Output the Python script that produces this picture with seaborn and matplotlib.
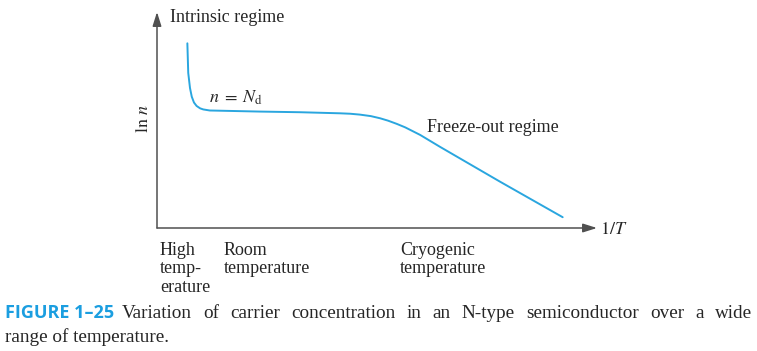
import matplotlib
matplotlib.use("Agg")
import matplotlib.pyplot as plt
import seaborn as sns
import pandas as pd

sns.set_theme(style="white")
plt.rcParams["font.family"] = ["Liberation Serif", "DejaVu Serif"]
plt.rcParams["mathtext.fontset"] = "stix"

# curve (arbitrary units: 1/T across, ln n up)
inv_T = [6.9, 7.1, 7.5, 7.9, 8.4, 9.0, 9.8, 10.5, 12.0, 16.6, 23.4, 32.5,
         41.6, 43.9, 46.1, 48.6, 50.7, 52.5, 54.5, 56.4, 59.8, 64.3, 78.0, 92.2]
ln_n = [85.5, 71.8, 64.8, 60.8, 58.1, 56.5, 55.4, 54.9, 54.4, 54.2, 53.9, 53.6,
        53.1, 52.9, 52.5, 51.8, 50.8, 49.7, 48.2, 46.6, 43.1, 37.6, 21.4, 5.0]

regime_labels = ["Intrinsic regime", r"$n\;=\;N_{\rm d}$", "Freeze-out regime"]
temp_labels = ["High\ntemp-\nerature", "Room\ntemperature", "Cryogenic\ntemperature"]
caption_line1 = "Variation of carrier concentration in an N-type semiconductor over a wide"
caption_line2 = "range of temperature."

df = pd.DataFrame({"x": inv_T, "y": ln_n})

W, H = 757, 351
fig = plt.figure(figsize=(W / 100, H / 100), dpi=100)
ax = fig.add_axes([157 / W, 1 - 228 / H, 440 / W, 216 / H])

curve_color = "#2aa6df"
axis_color = "#505050"
sns.lineplot(data=df, x="x", y="y", sort=False, color=curve_color, lw=1.4, ax=ax)

ax.set_xlim(0, 100)
ax.set_ylim(0, 100)
ax.set_xticks([])
ax.set_yticks([])
ax.set_xlabel("")
ax.set_ylabel("")
for s in ["top", "right", "left", "bottom"]:
    ax.spines[s].set_visible(False)

arrow = dict(arrowstyle="-|>,head_length=0.7,head_width=0.22", color=axis_color,
             lw=1.1, shrinkA=0, shrinkB=0)
ax.annotate("", xy=(1, 0), xytext=(0, 0), xycoords="axes fraction", arrowprops=arrow)
ax.annotate("", xy=(0, 1), xytext=(0, 0), xycoords="axes fraction", arrowprops=arrow)


def px(x, y):
    return x / W, 1 - y / H


fs = 13
fig.text(*px(170, 17), regime_labels[0], fontsize=fs, va="center", ha="left")
fig.text(*px(209, 98), regime_labels[1], fontsize=fs, va="center", ha="left")
fig.text(*px(427, 127), regime_labels[2], fontsize=fs, va="center", ha="left")
fig.text(*px(143, 119), r"$\ln\,n$", fontsize=fs, va="center", ha="center", rotation=90)
fig.text(*px(600, 229), r"$1/T$", fontsize=fs, va="center", ha="left")

for xpos, lab in zip([160, 224, 400], temp_labels):
    fig.text(*px(xpos, 242), lab, fontsize=fs, va="top", ha="left", linespacing=1.1)

cap_fs = 13.8
fig.text(*px(5, 313), "FIGURE 1–25", fontsize=13, family="Open Sans", weight="bold",
         color="#1b9ee0", va="center", ha="left")

# justified first caption line: place words one by one
renderer = fig.canvas.get_renderer()
words = caption_line1.split()
arts = [fig.text(0, 0, w, fontsize=cap_fs, va="center", ha="left") for w in words]
widths = [a.get_window_extent(renderer).width for a in arts]
x0, x1 = 122, 752
gap = (x1 - x0 - sum(widths)) / (len(words) - 1)
xcur = x0
for a, w in zip(arts, widths):
    a.set_position(px(xcur, 313))
    xcur += w + gap

fig.text(*px(5, 337), caption_line2, fontsize=cap_fs, va="center", ha="left")

fig.savefig("out.png", dpi=100)
